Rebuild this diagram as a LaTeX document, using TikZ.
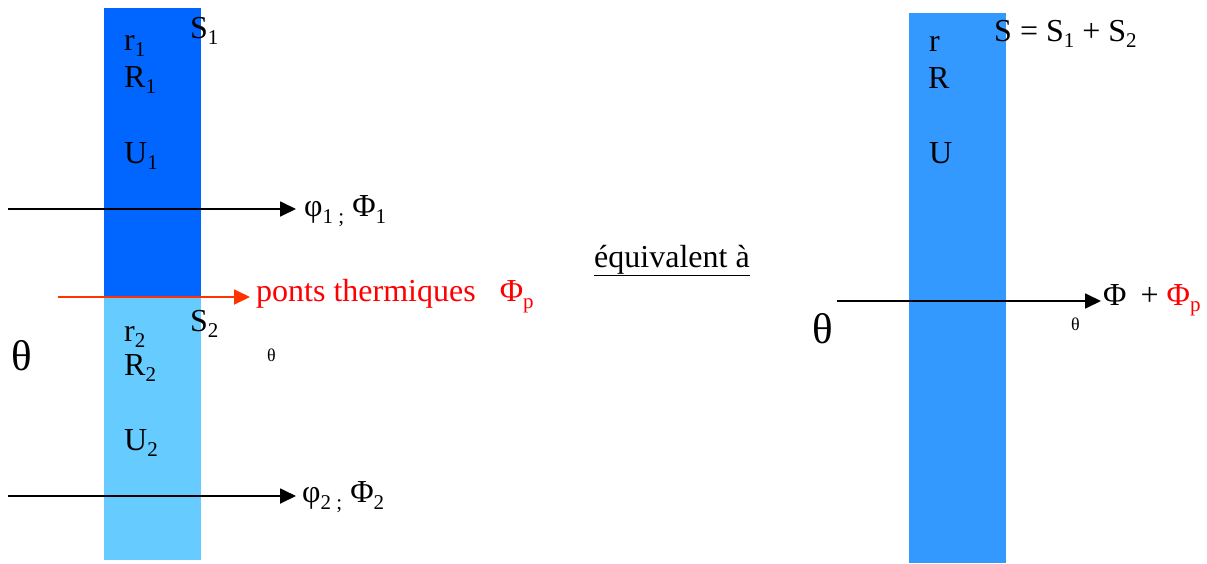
\documentclass[tikz,border=0pt]{standalone}
\usepackage{fontspec}
\setmainfont{Liberation Serif}
\usetikzlibrary{arrows.meta}
\newcommand\lsub[1]{\raisebox{-0.2em}{\fontsize{21}{21}\selectfont #1}}
\definecolor{darkblue}{HTML}{0066FF}
\definecolor{lightblue}{HTML}{66CCFF}
\definecolor{midblue}{HTML}{3399FF}
\definecolor{redline}{HTML}{FF3300}
\definecolor{redtext}{HTML}{FF0000}
\tikzset{
  lbl/.style={anchor=base west, inner sep=0pt, font=\fontsize{32}{32}\selectfont},
  bigth/.style={anchor=base west, inner sep=0pt, font=\fontsize{43}{43}\selectfont},
  smallth/.style={anchor=base west, inner sep=0pt, font=\fontsize{18}{18}\selectfont},
  flux/.style={line width=1.8pt, -{Triangle[length=16pt,width=15pt]}},
}
\begin{document}
\begin{tikzpicture}[x=1pt,y=-1pt]
\useasboundingbox (0,0) rectangle (1207,563);
% walls
\fill[darkblue] (104,8) rectangle (201,297);
\fill[lightblue] (104,297) rectangle (201,560);
\fill[midblue] (909,13) rectangle (1006,563);
% left wall labels
\node[lbl] (r1) at (124,50) {r\lsub{1}};
\node[lbl] (R1) at (124,87) {R\lsub{1}};
\node[lbl] (U1) at (124,163) {U\lsub{1}};
\node[lbl] (S1) at (190,38) {S\lsub{1}};
\node[lbl] (S2) at (190,331) {S\lsub{2}};
\node[lbl] (r2) at (124,341) {r\lsub{2}};
\node[lbl] (R2) at (124,375) {R\lsub{2}};
\node[lbl] (U2) at (124,450) {U\lsub{2}};
\node[bigth] (th1) at (11,370) {θ};
\node[smallth] (th2) at (267,361) {θ};
% flux arrows left
\coordinate (a1s) at (8,209);
\coordinate (a1e) at (296,209);
\node[lbl, anchor=west] (phi1) at (304,211) {φ\lsub{1 ;} Φ\lsub{1}};
\draw[flux] (a1s) -- (a1e);
\coordinate (a2s) at (8,496);
\coordinate (a2e) at (296,496);
\node[lbl, anchor=west] (phi2) at (302,497) {φ\lsub{2 ;} Φ\lsub{2}};
\draw[flux] (a2s) -- (a2e);
\coordinate (aps) at (58,297);
\coordinate (ape) at (250,297);
\draw[flux, redline] (aps) -- (ape);
\node[lbl, anchor=west, text=redtext] (pt) at (256,296) {ponts thermiques\hspace{24pt}Φ\lsub{p}};
% equivalent
\node[lbl] (eq) at (594,267) {\underline{équivalent à}};
% right wall
\node[lbl] (r) at (929,51) {r};
\node[lbl] (R) at (928,88) {R};
\node[lbl] (U) at (929,163) {U};
\node[lbl] (S) at (994,41) {S = S\lsub{1} + S\lsub{2}};
\node[bigth] (th3) at (812,343) {θ};
\node[smallth] (th4) at (1071,330) {θ};
\coordinate (a3s) at (837,301);
\coordinate (a3e) at (1101,301);
\draw[flux] (a3s) -- (a3e);
\node[lbl, anchor=west] (res) at (1103,300) {Φ\hspace{14pt}+ \textcolor{redtext}{Φ\lsub{p}}};
\end{tikzpicture}
\end{document}
